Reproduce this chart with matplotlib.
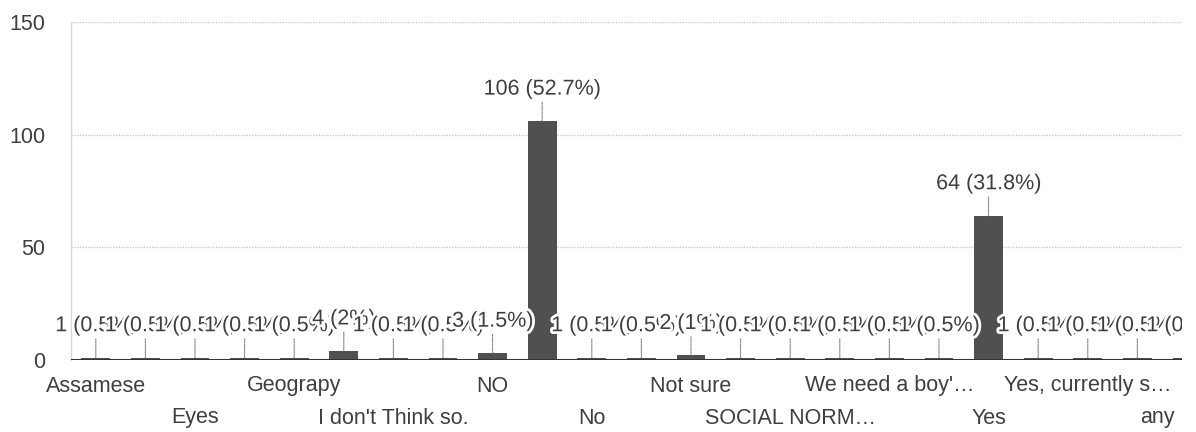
import matplotlib
matplotlib.use("Agg")
import matplotlib.pyplot as plt
import matplotlib.patheffects as pe
from matplotlib.transforms import Bbox, blended_transform_factory

# Answers in the order the chart draws them. Only every other label is
# printed on the axis, the rest are hidden in the source and left blank here.
categories = [
    "Assamese", "", "Eyes", "", "Geograpy", "", "I don't Think so.", "",
    "NO", "", "No", "", "Not sure", "", "SOCIAL NORM\u2026", "",
    "We need a boy'\u2026", "", "Yes", "", "Yes, currently s\u2026", "", "any",
]
counts = [1, 1, 1, 1, 1, 4, 1, 1, 3, 106, 1, 1, 2,
          1, 1, 1, 1, 1, 64, 1, 1, 1, 1]
TOTAL_RESPONSES = 201
y_ticks = [0, 50, 100, 150]

plt.rcParams["font.family"] = ["Liberation Sans", "DejaVu Sans"]
TEXT = "#3f3f3f"
FS = 15.5

fig = plt.figure(figsize=(11.96, 4.32), dpi=100)
ax = fig.add_axes([71 / 1196, 72 / 432, 1111 / 1196, 338 / 432])

x = list(range(len(categories)))
ax.bar(x, counts, width=0.58, color="#505050", zorder=2)

ax.set_xlim(-0.5, 21.9)
ax.set_ylim(0, 150)

# grid and baseline
for y in y_ticks[1:]:
    ax.axhline(y, color="#c8c8c8", lw=1, ls=(0, (1, 1)), zorder=1)
ax.axhline(0, color="#333333", lw=2.2, zorder=3)
for s in ["top", "right", "bottom"]:
    ax.spines[s].set_visible(False)
ax.spines["left"].set_color("#d8d8d8")
ax.spines["left"].set_linestyle((0, (1, 1)))
ax.spines["left"].set_linewidth(1)

ax.set_yticks(y_ticks)
ax.set_yticklabels([str(t) for t in y_ticks])
ax.tick_params(axis="y", length=0, pad=18.5, labelsize=FS, labelcolor=TEXT)
ax.set_xticks([])

# labels may spill left of the plot, but get cut at its right edge
clip = Bbox.from_extents(0, 0, 1182, 432)

# value annotations with stems, later ones drawn over earlier ones
for i, v in enumerate(counts):
    pct = round(v / TOTAL_RESPONSES * 100, 1)
    label = f"{v} ({pct:g}%)"
    ann = ax.annotate(
        label, xy=(i, v), xytext=(0, 15.5), textcoords="offset points",
        ha="center", va="bottom", fontsize=FS, color=TEXT,
        zorder=5 + i, annotation_clip=False,
        arrowprops=dict(arrowstyle="-", color="#8a8a8a", lw=0.9,
                        linestyle=(0, (1, 1)), shrinkA=0, shrinkB=0),
        path_effects=[pe.withStroke(linewidth=4, foreground="white")],
    )
    ann.set_clip_box(clip)
    ann.set_clip_on(True)
    ann.arrow_patch.set_clip_box(clip)
    ann.arrow_patch.set_clip_on(True)

# category labels, staggered on two rows
x_right = ax.get_xlim()[1]
trans = blended_transform_factory(ax.transData, fig.transFigure)
for i, name in enumerate(categories):
    if not name:
        continue
    row = (i // 2) % 2
    ypix = 386 if row == 0 else 418
    xa, ha = i, "center"
    if i > x_right - 0.3:
        xa, ha = x_right - 0.15, "right"
    ax.text(xa, 1 - ypix / 432, name, transform=trans,
            ha=ha, va="center", fontsize=FS, color=TEXT)

fig.savefig("out.png", dpi=100, facecolor="white")
